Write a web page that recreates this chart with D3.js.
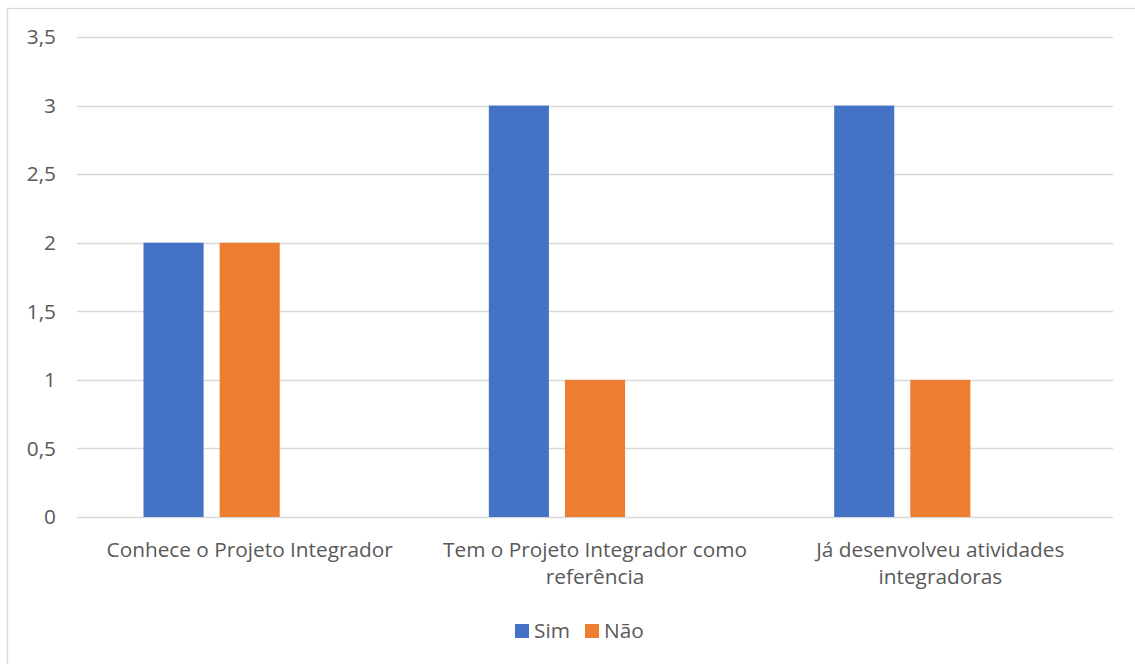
<!DOCTYPE html>
<html>
<head>
<meta charset="utf-8">
<script src="https://cdn.jsdelivr.net/npm/d3@7"></script>
<style>
  html, body { margin: 0; padding: 0; background: #fff; }
  svg { display: block; }
  text { font-family: "Open Sans", Lato, sans-serif; fill: #595959; }
</style>
</head>
<body>
<svg id="chart" width="1135" height="664"></svg>
<script>
// Survey answers per question
const categories = [
  "Conhece o Projeto Integrador",
  "Tem o Projeto Integrador como\nreferência",
  "Já desenvolveu atividades\nintegradoras"
];
const seriesNames = ["Sim", "Não"];
const simValues = [2, 3, 3];
const naoValues = [2, 1, 1];
const yTicks = [0, 0.5, 1, 1.5, 2, 2.5, 3, 3.5];
const colors = ["#4472C4", "#ED7D31"];

const svg = d3.select("#chart");
const W = 1135, H = 664;
const FS = 20.8;

// outer chart border
svg.append("rect")
  .attr("x", 7.5).attr("y", 8.5)
  .attr("width", W + 10).attr("height", H + 10)
  .attr("fill", "none").attr("stroke", "#d9d9d9").attr("stroke-width", 1.3);

const plot = { left: 77, right: 1113, top: 37, bottom: 517 };

const x = d3.scaleBand().domain(categories).range([plot.left, plot.right]).padding(0);
const y = d3.scaleLinear().domain([0, 3.5]).range([plot.bottom, plot.top]);

// gridlines
svg.append("g").selectAll("line").data(yTicks).join("line")
  .attr("x1", plot.left).attr("x2", plot.right)
  .attr("y1", d => Math.round(y(d)) + 0.5).attr("y2", d => Math.round(y(d)) + 0.5)
  .attr("stroke", "#d9d9d9").attr("stroke-width", 1.3);

// y tick labels
const fmt = d => String(d).replace(".", ",");
svg.append("g").selectAll("text").data(yTicks).join("text")
  .attr("x", 56).attr("y", d => y(d))
  .attr("dy", "0.35em")
  .attr("text-anchor", "end")
  .attr("font-size", FS)
  .text(fmt);

// bars: three slots per category (the third one stays empty)
const outerGap = 66.5;
const slot = d3.scaleBand().domain([0, 1, 2])
  .range([outerGap, x.bandwidth() - outerGap])
  .paddingInner(16 / 76).paddingOuter(0);

const rows = categories.map((c, i) => ({ cat: c, vals: [simValues[i], naoValues[i]] }));
const g = svg.append("g");
rows.forEach(r => {
  r.vals.forEach((v, si) => {
    g.append("rect")
      .attr("x", x(r.cat) + slot(si))
      .attr("y", y(v))
      .attr("width", slot.bandwidth())
      .attr("height", y(0) - y(v))
      .attr("fill", colors[si]);
  });
});

// category labels
svg.append("g").selectAll("text").data(categories).join("text")
  .attr("x", d => x(d) + x.bandwidth() / 2)
  .attr("y", 556.5)
  .attr("text-anchor", "middle")
  .attr("font-size", FS)
  .each(function(d) {
    const t = d3.select(this);
    d.split("\n").forEach((line, i) => {
      t.append("tspan").attr("x", x(d) + x.bandwidth() / 2).attr("dy", i === 0 ? 0 : 27).text(line);
    });
  });

// legend
const legend = svg.append("g");
const legendItems = [
  { name: seriesNames[0], color: colors[0], x: 515 },
  { name: seriesNames[1], color: colors[1], x: 585 }
];
legendItems.forEach(it => {
  legend.append("rect").attr("x", it.x).attr("y", 624).attr("width", 14).attr("height", 14).attr("fill", it.color);
  legend.append("text").attr("x", it.x + 19).attr("y", 631).attr("dy", "0.35em")
    .attr("font-size", FS).text(it.name);
});
</script>
</body>
</html>
